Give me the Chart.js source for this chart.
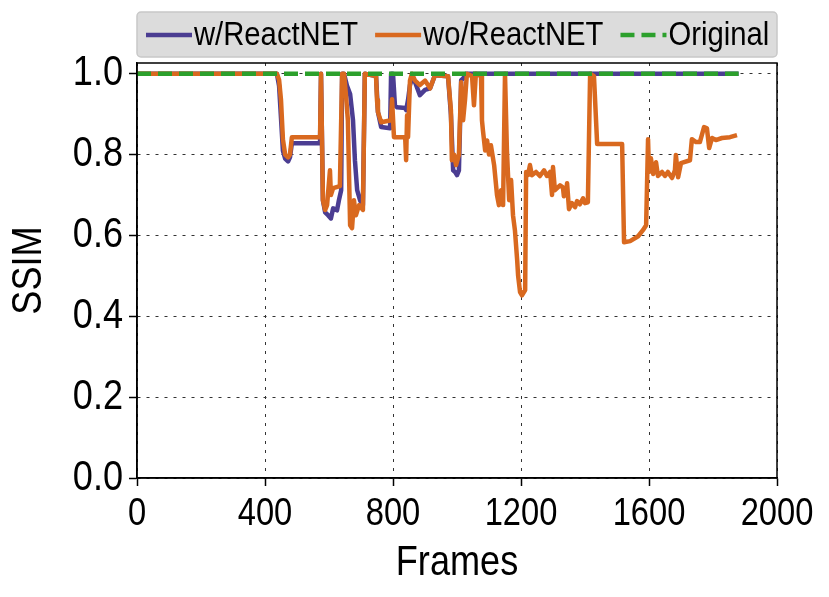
<!DOCTYPE html>
<html>
<head>
<meta charset="utf-8">
<script src="https://cdn.jsdelivr.net/npm/chart.js@4"></script>
<style>
  html, body { margin: 0; padding: 0; background: #fff; }
</style>
</head>
<body>
<canvas id="ssimChart" width="829" height="597"></canvas>
<script>
// wo/ReactNET (orange)
const woFrames = [
  0, 437, 444, 450, 456, 463, 472, 478, 484, 572,
  575, 578, 581, 588, 594, 603, 606, 613, 634, 641,
  647, 653, 659, 666, 672, 678, 684, 694, 706, 712,
  747, 750, 753, 763, 794, 797, 803, 838, 841, 844,
  847, 853, 859, 869, 884, 900, 916, 931, 972, 981,
  984, 991, 997, 1006, 1013, 1019, 1025, 1031, 1047, 1053,
  1059, 1075, 1078, 1081, 1088, 1094, 1100, 1106, 1116, 1125,
  1131, 1138, 1144, 1150, 1156, 1163, 1169, 1175, 1181, 1188,
  1191, 1197, 1203, 1213, 1216, 1222, 1228, 1234, 1247, 1259,
  1272, 1281, 1291, 1297, 1300, 1306, 1322, 1331, 1334, 1341,
  1344, 1350, 1359, 1369, 1375, 1384, 1394, 1400, 1409, 1416,
  1428, 1438, 1516, 1522, 1541, 1566, 1581, 1591, 1597, 1600,
  1606, 1613, 1622, 1628, 1641, 1650, 1659, 1672, 1681, 1684,
  1691, 1700, 1728, 1734, 1747, 1759, 1772, 1781, 1788, 1797,
  1809, 1828, 1853, 1875
];
const woSsim = [
  1.0, 1.0, 0.985, 0.935, 0.838, 0.80, 0.793, 0.80, 0.843, 0.843,
  1.0, 1.0, 0.687, 0.663, 0.675, 0.761, 0.70, 0.717, 0.722, 1.0,
  1.0, 0.947, 0.885, 0.625, 0.618, 0.687, 0.650, 0.675, 0.663, 1.0,
  0.994, 0.935, 0.905, 0.88, 0.885, 0.937, 0.843, 0.843, 0.786, 0.897,
  0.843, 0.983, 1.0, 0.983, 0.972, 0.983, 0.964, 0.996, 0.994, 0.91,
  0.786, 0.80, 0.774, 0.80, 0.979, 0.885, 0.935, 1.0, 0.994, 0.922,
  1.0, 0.994, 0.885, 0.86, 0.81, 0.835, 0.80, 0.823, 0.774, 0.70,
  0.675, 0.712, 0.675, 1.0, 0.81, 0.687, 0.737, 0.65, 0.613, 0.539,
  0.50, 0.46, 0.452, 0.465, 0.757, 0.749, 0.774, 0.749, 0.757, 0.747,
  0.761, 0.747, 0.757, 0.70, 0.769, 0.712, 0.724, 0.719, 0.697, 0.705,
  0.729, 0.665, 0.68, 0.67, 0.685, 0.677, 0.692, 0.68, 0.682, 1.0,
  0.994, 0.826, 0.826, 0.583, 0.586, 0.598, 0.613, 0.625, 0.838, 0.757,
  0.791, 0.752, 0.781, 0.747, 0.757, 0.747, 0.757, 0.742, 0.761, 0.799,
  0.744, 0.779, 0.786, 0.838, 0.831, 0.831, 0.868, 0.865, 0.816, 0.841,
  0.836, 0.841, 0.843, 0.848
];

// w/ReactNET (purple)
const wFrames = [
  0, 437, 444, 450, 456, 463, 472, 478, 484, 572,
  575, 578, 581, 588, 597, 606, 613, 625, 631, 638,
  641, 647, 656, 666, 675, 681, 688, 697, 706, 712,
  747, 753, 763, 791, 794, 800, 806, 813, 838, 841,
  847, 853, 859, 869, 884, 900, 916, 931, 972, 981,
  988, 994, 1000, 1006, 1013, 1019, 1028, 1880
];
const wSsim = [
  1.0, 1.0, 0.97, 0.89, 0.81, 0.79, 0.783, 0.793, 0.828, 0.828,
  1.0, 1.0, 0.687, 0.657, 0.65, 0.642, 0.667, 0.662, 0.687, 0.712,
  1.0, 1.0, 0.971, 0.95, 0.885, 0.786, 0.712, 0.687, 0.675, 1.0,
  0.994, 0.905, 0.868, 0.865, 1.0, 1.0, 0.922, 0.917, 0.915, 0.91,
  0.935, 0.972, 0.988, 0.979, 0.947, 0.96, 0.964, 0.996, 0.994, 0.898,
  0.761, 0.757, 0.749, 0.761, 0.984, 0.988, 1.0, 1.0
];

// Original
const origFrames = [0, 1880];
const origSsim = [1.0, 1.0];

const xTicks = [0, 400, 800, 1200, 1600, 2000];
const yTicks = [0, 0.2, 0.4, 0.6, 0.8, 1.0];

const toPoints = (xs, ys) => xs.map((x, i) => ({ x: x, y: ys[i] }));

const fontFamily = '"Liberation Sans", Arial, Helvetica, sans-serif';
const condense = 0.86;   // reference uses a narrow sans

// draw all canvas text slightly condensed
const narrowText = {
  id: 'narrowText',
  beforeInit(chart) {
    const ctx = chart.ctx;
    const fill = ctx.fillText;
    ctx.fillText = function (text, x, y, maxWidth) {
      let w = this.measureText(text).width * condense;
      if (maxWidth !== undefined && maxWidth < w) w = maxWidth;
      fill.call(this, text, x, y, w);
    };
  }
};

// full black box around plot area
const frame = {
  id: 'frame',
  afterDraw(chart) {
    const { ctx, chartArea: a } = chart;
    ctx.save();
    ctx.strokeStyle = '#000';
    ctx.lineWidth = 1.5;
    ctx.strokeRect(a.left, a.top, a.right - a.left, a.bottom - a.top);
    ctx.restore();
  }
};

// grey legend box above the plot
const legendOrder = [0, 1, 2];
const legendBox = {
  id: 'legendBox',
  afterDraw(chart) {
    const { ctx, chartArea: a } = chart;
    ctx.save();
    ctx.beginPath();
    ctx.roundRect(a.left, 12, a.right - a.left, 45, 4);
    ctx.fillStyle = '#dcdcdc';
    ctx.fill();
    ctx.strokeStyle = '#c8c8c8';
    ctx.lineWidth = 1.5;
    ctx.stroke();

    ctx.font = '34px ' + fontFamily;
    ctx.textBaseline = 'middle';
    ctx.textAlign = 'left';
    const y = 35;
    let x = a.left + 9;
    legendOrder.forEach(i => {
      const ds = chart.data.datasets[i];
      ctx.beginPath();
      ctx.setLineDash(ds.borderDash || []);
      ctx.lineWidth = 4.5;
      ctx.strokeStyle = ds.borderColor;
      ctx.moveTo(x, y);
      ctx.lineTo(x + 46, y);
      ctx.stroke();
      ctx.setLineDash([]);
      ctx.fillStyle = '#000';
      ctx.fillText(ds.label, x + 48, y + 1);
      x += 48 + ctx.measureText(ds.label).width * condense + 17;
    });
    ctx.restore();
  }
};

const tickFont = { family: fontFamily, size: 38 };
const titleFont = { family: fontFamily, size: 42, lineHeight: 1.2 };

new Chart(document.getElementById('ssimChart'), {
  type: 'line',
  data: {
    datasets: [{
      label: 'w/ReactNET',
      data: toPoints(wFrames, wSsim),
      borderColor: '#4b3d92',
      order: 2
    }, {
      label: 'wo/ReactNET',
      data: toPoints(woFrames, woSsim),
      borderColor: '#d9691f',
      order: 1
    }, {
      label: 'Original',
      data: toPoints(origFrames, origSsim),
      borderColor: '#2ca02c',
      borderDash: [14, 7],
      order: 0
    }]
  },
  options: {
    responsive: false,
    animation: false,
    events: [],
    layout: { padding: { top: 63, right: 52, bottom: 0, left: 0 } },
    elements: {
      point: { radius: 0 },
      line: { borderWidth: 4.5, tension: 0, fill: false, borderJoinStyle: 'round' }
    },
    plugins: {
      legend: { display: false },
      tooltip: { enabled: false }
    },
    scales: {
      x: {
        type: 'linear',
        min: 0,
        max: 2000,
        afterBuildTicks: s => { s.ticks = xTicks.map(v => ({ value: v })); },
        afterFit: s => { s.height = 119; },
        ticks: { font: tickFont, color: '#000', padding: 6, maxRotation: 0, autoSkip: false, callback: v => String(v) },
        grid: { color: '#333', lineWidth: 1, tickLength: 8, tickColor: '#000', tickWidth: 1.5 },
        border: { color: '#000', width: 1.5, dash: [3, 6] },
        title: { display: true, text: 'Frames', font: titleFont, color: '#000', padding: { top: 0, bottom: 8 } }
      },
      y: {
        min: 0,
        max: 1.0265,
        afterBuildTicks: s => { s.ticks = yTicks.map(v => ({ value: v })); },
        afterFit: s => { s.width = 137; },
        ticks: { font: { family: fontFamily, size: 42 }, color: '#000', padding: 6, autoSkip: false, callback: v => v.toFixed(1) },
        grid: { color: '#333', lineWidth: 1, tickLength: 8, tickColor: '#000', tickWidth: 1.5 },
        border: { color: '#000', width: 1.5, dash: [3, 6] },
        title: { display: true, text: 'SSIM', font: titleFont, color: '#000', padding: { top: 4, bottom: 0 } }
      }
    }
  },
  plugins: [narrowText, frame, legendBox]
});
</script>
</body>
</html>
